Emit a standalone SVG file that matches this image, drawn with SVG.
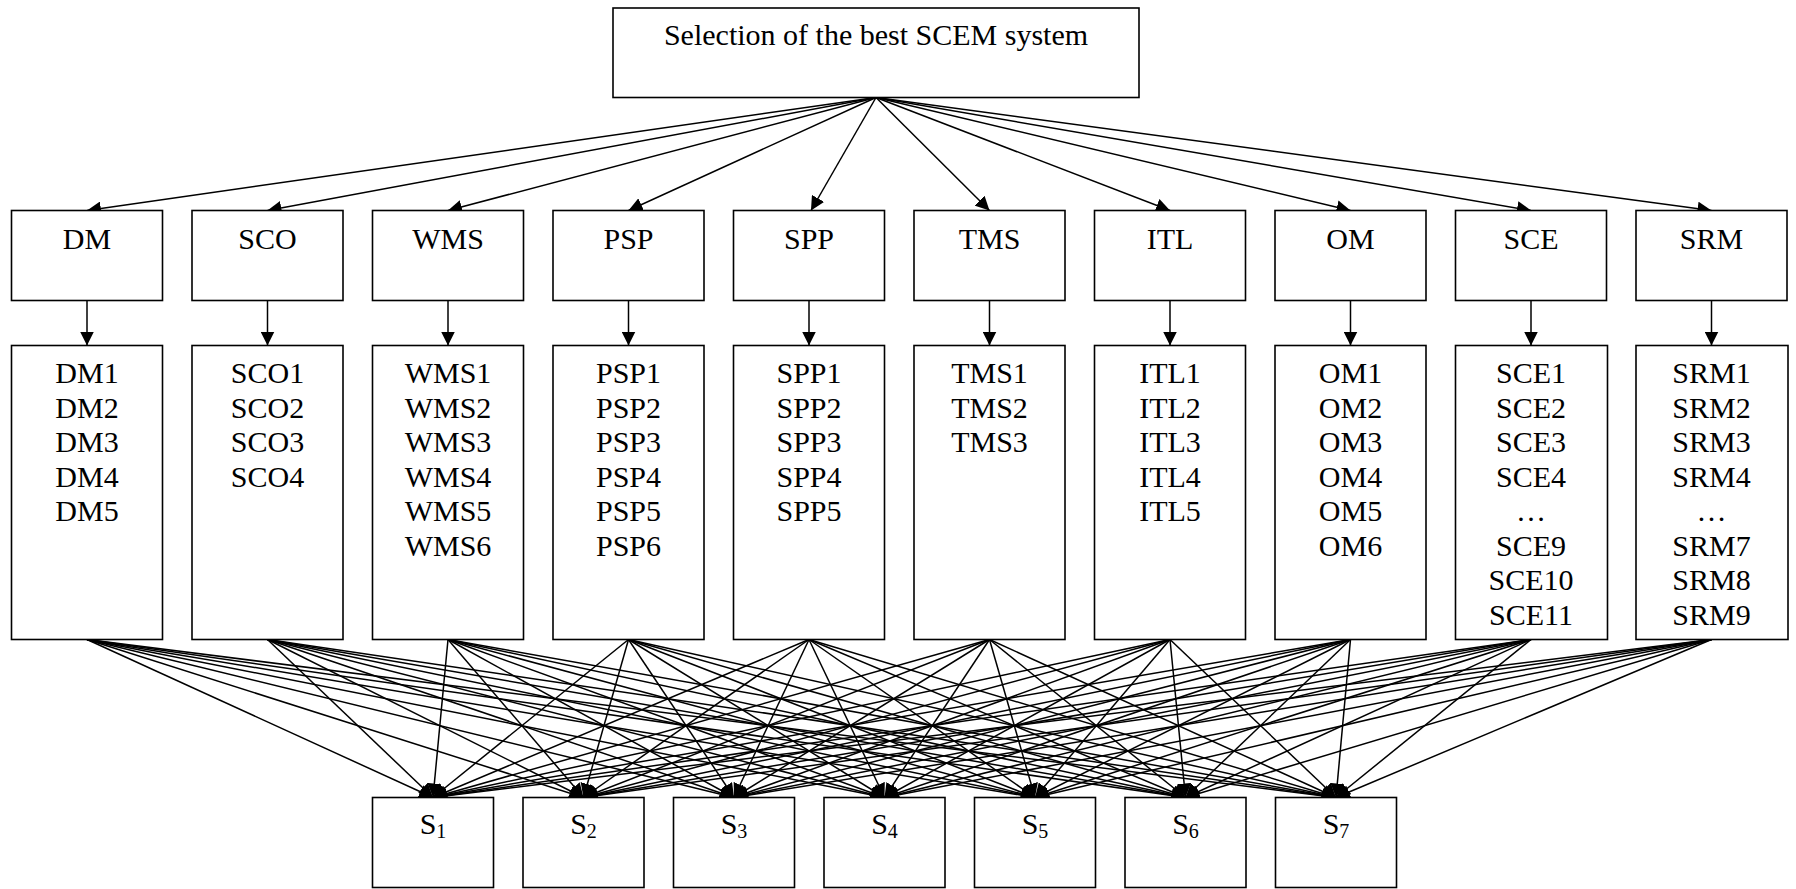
<svg xmlns="http://www.w3.org/2000/svg" width="1796" height="889" viewBox="0 0 1796 889">
  <defs>
    <marker id="ah" viewBox="0 0 14 14" refX="14" refY="7" markerWidth="14" markerHeight="14" markerUnits="userSpaceOnUse" orient="auto">
      <path d="M0,0 L14,7 L0,14 z" fill="#000"/>
    </marker>
    <style>
      rect { fill: #fff; stroke: #000; stroke-width: 1.6; }
      text { font-family: "Liberation Serif", "Times New Roman", serif; font-size: 30px; fill: #000; text-anchor: middle; }
      .sub { font-size: 20px; }
      #connectors line { stroke: #000; stroke-width: 1.5; marker-end: url(#ah); }
    </style>
  </defs>
  <rect x="0" y="0" width="1796" height="889" style="fill:#fff;stroke:none"/>

  <!-- connectors -->
  <g id="connectors">
    <!-- goal to criteria -->
    <line x1="876" y1="97.5" x2="87" y2="210.5"/>
    <line x1="876" y1="97.5" x2="267.5" y2="210.5"/>
    <line x1="876" y1="97.5" x2="448" y2="210.5"/>
    <line x1="876" y1="97.5" x2="628.5" y2="210.5"/>
    <line x1="876" y1="97.5" x2="811" y2="210.5"/>
    <line x1="876" y1="97.5" x2="989.5" y2="210.5"/>
    <line x1="876" y1="97.5" x2="1170" y2="210.5"/>
    <line x1="876" y1="97.5" x2="1350.5" y2="210.5"/>
    <line x1="876" y1="97.5" x2="1531" y2="210.5"/>
    <line x1="876" y1="97.5" x2="1711.5" y2="210.5"/>
    <!-- criteria to sub-criteria -->
    <line x1="87" y1="300.5" x2="87" y2="345.5"/>
    <line x1="267.5" y1="300.5" x2="267.5" y2="345.5"/>
    <line x1="448" y1="300.5" x2="448" y2="345.5"/>
    <line x1="628.5" y1="300.5" x2="628.5" y2="345.5"/>
    <line x1="809" y1="300.5" x2="809" y2="345.5"/>
    <line x1="989.5" y1="300.5" x2="989.5" y2="345.5"/>
    <line x1="1170" y1="300.5" x2="1170" y2="345.5"/>
    <line x1="1350.5" y1="300.5" x2="1350.5" y2="345.5"/>
    <line x1="1531" y1="300.5" x2="1531" y2="345.5"/>
    <line x1="1711.5" y1="300.5" x2="1711.5" y2="345.5"/>
    <!-- sub-criteria to alternatives -->
    <line x1="87" y1="639.5" x2="433" y2="797.5"/>
    <line x1="87" y1="639.5" x2="583.5" y2="797.5"/>
    <line x1="87" y1="639.5" x2="734" y2="797.5"/>
    <line x1="87" y1="639.5" x2="884.5" y2="797.5"/>
    <line x1="87" y1="639.5" x2="1035" y2="797.5"/>
    <line x1="87" y1="639.5" x2="1185.5" y2="797.5"/>
    <line x1="87" y1="639.5" x2="1336" y2="797.5"/>
    <line x1="267.5" y1="639.5" x2="433" y2="797.5"/>
    <line x1="267.5" y1="639.5" x2="583.5" y2="797.5"/>
    <line x1="267.5" y1="639.5" x2="734" y2="797.5"/>
    <line x1="267.5" y1="639.5" x2="884.5" y2="797.5"/>
    <line x1="267.5" y1="639.5" x2="1035" y2="797.5"/>
    <line x1="267.5" y1="639.5" x2="1185.5" y2="797.5"/>
    <line x1="267.5" y1="639.5" x2="1336" y2="797.5"/>
    <line x1="448" y1="639.5" x2="433" y2="797.5"/>
    <line x1="448" y1="639.5" x2="583.5" y2="797.5"/>
    <line x1="448" y1="639.5" x2="734" y2="797.5"/>
    <line x1="448" y1="639.5" x2="884.5" y2="797.5"/>
    <line x1="448" y1="639.5" x2="1035" y2="797.5"/>
    <line x1="448" y1="639.5" x2="1185.5" y2="797.5"/>
    <line x1="448" y1="639.5" x2="1336" y2="797.5"/>
    <line x1="628.5" y1="639.5" x2="433" y2="797.5"/>
    <line x1="628.5" y1="639.5" x2="583.5" y2="797.5"/>
    <line x1="628.5" y1="639.5" x2="734" y2="797.5"/>
    <line x1="628.5" y1="639.5" x2="884.5" y2="797.5"/>
    <line x1="628.5" y1="639.5" x2="1035" y2="797.5"/>
    <line x1="628.5" y1="639.5" x2="1185.5" y2="797.5"/>
    <line x1="628.5" y1="639.5" x2="1336" y2="797.5"/>
    <line x1="809" y1="639.5" x2="433" y2="797.5"/>
    <line x1="809" y1="639.5" x2="583.5" y2="797.5"/>
    <line x1="809" y1="639.5" x2="734" y2="797.5"/>
    <line x1="809" y1="639.5" x2="884.5" y2="797.5"/>
    <line x1="809" y1="639.5" x2="1035" y2="797.5"/>
    <line x1="809" y1="639.5" x2="1185.5" y2="797.5"/>
    <line x1="809" y1="639.5" x2="1336" y2="797.5"/>
    <line x1="989.5" y1="639.5" x2="433" y2="797.5"/>
    <line x1="989.5" y1="639.5" x2="583.5" y2="797.5"/>
    <line x1="989.5" y1="639.5" x2="734" y2="797.5"/>
    <line x1="989.5" y1="639.5" x2="884.5" y2="797.5"/>
    <line x1="989.5" y1="639.5" x2="1035" y2="797.5"/>
    <line x1="989.5" y1="639.5" x2="1185.5" y2="797.5"/>
    <line x1="989.5" y1="639.5" x2="1336" y2="797.5"/>
    <line x1="1170" y1="639.5" x2="433" y2="797.5"/>
    <line x1="1170" y1="639.5" x2="583.5" y2="797.5"/>
    <line x1="1170" y1="639.5" x2="734" y2="797.5"/>
    <line x1="1170" y1="639.5" x2="884.5" y2="797.5"/>
    <line x1="1170" y1="639.5" x2="1035" y2="797.5"/>
    <line x1="1170" y1="639.5" x2="1185.5" y2="797.5"/>
    <line x1="1170" y1="639.5" x2="1336" y2="797.5"/>
    <line x1="1350.5" y1="639.5" x2="433" y2="797.5"/>
    <line x1="1350.5" y1="639.5" x2="583.5" y2="797.5"/>
    <line x1="1350.5" y1="639.5" x2="734" y2="797.5"/>
    <line x1="1350.5" y1="639.5" x2="884.5" y2="797.5"/>
    <line x1="1350.5" y1="639.5" x2="1035" y2="797.5"/>
    <line x1="1350.5" y1="639.5" x2="1185.5" y2="797.5"/>
    <line x1="1350.5" y1="639.5" x2="1336" y2="797.5"/>
    <line x1="1531" y1="639.5" x2="433" y2="797.5"/>
    <line x1="1531" y1="639.5" x2="583.5" y2="797.5"/>
    <line x1="1531" y1="639.5" x2="734" y2="797.5"/>
    <line x1="1531" y1="639.5" x2="884.5" y2="797.5"/>
    <line x1="1531" y1="639.5" x2="1035" y2="797.5"/>
    <line x1="1531" y1="639.5" x2="1185.5" y2="797.5"/>
    <line x1="1531" y1="639.5" x2="1336" y2="797.5"/>
    <line x1="1711.5" y1="639.5" x2="433" y2="797.5"/>
    <line x1="1711.5" y1="639.5" x2="583.5" y2="797.5"/>
    <line x1="1711.5" y1="639.5" x2="734" y2="797.5"/>
    <line x1="1711.5" y1="639.5" x2="884.5" y2="797.5"/>
    <line x1="1711.5" y1="639.5" x2="1035" y2="797.5"/>
    <line x1="1711.5" y1="639.5" x2="1185.5" y2="797.5"/>
    <line x1="1711.5" y1="639.5" x2="1336" y2="797.5"/>
  </g>

  <!-- goal -->
  <g id="goal">
    <rect x="613" y="8" width="526" height="89.5"/>
    <text x="876" y="45">Selection of the best SCEM system</text>
  </g>

  <!-- criteria -->
  <g id="c-dm"><rect x="11.5" y="210.5" width="151" height="90"/><text x="87" y="249">DM</text></g>
  <g id="c-sco"><rect x="192" y="210.5" width="151" height="90"/><text x="267.5" y="249">SCO</text></g>
  <g id="c-wms"><rect x="372.5" y="210.5" width="151" height="90"/><text x="448" y="249">WMS</text></g>
  <g id="c-psp"><rect x="553" y="210.5" width="151" height="90"/><text x="628.5" y="249">PSP</text></g>
  <g id="c-spp"><rect x="733.5" y="210.5" width="151" height="90"/><text x="809" y="249">SPP</text></g>
  <g id="c-tms"><rect x="914" y="210.5" width="151" height="90"/><text x="989.5" y="249">TMS</text></g>
  <g id="c-itl"><rect x="1094.5" y="210.5" width="151" height="90"/><text x="1170" y="249">ITL</text></g>
  <g id="c-om"><rect x="1275" y="210.5" width="151" height="90"/><text x="1350.5" y="249">OM</text></g>
  <g id="c-sce"><rect x="1455.5" y="210.5" width="151" height="90"/><text x="1531" y="249">SCE</text></g>
  <g id="c-srm"><rect x="1636" y="210.5" width="151" height="90"/><text x="1711.5" y="249">SRM</text></g>

  <!-- sub-criteria -->
  <g id="s-dm">
    <rect x="11.5" y="345.5" width="151" height="294"/>
    <text x="87" y="383">DM1</text><text x="87" y="417.5">DM2</text><text x="87" y="452">DM3</text><text x="87" y="486.5">DM4</text><text x="87" y="521">DM5</text>
  </g>
  <g id="s-sco">
    <rect x="192" y="345.5" width="151" height="294"/>
    <text x="267.5" y="383">SCO1</text><text x="267.5" y="417.5">SCO2</text><text x="267.5" y="452">SCO3</text><text x="267.5" y="486.5">SCO4</text>
  </g>
  <g id="s-wms">
    <rect x="372.5" y="345.5" width="151" height="294"/>
    <text x="448" y="383">WMS1</text><text x="448" y="417.5">WMS2</text><text x="448" y="452">WMS3</text><text x="448" y="486.5">WMS4</text><text x="448" y="521">WMS5</text><text x="448" y="555.5">WMS6</text>
  </g>
  <g id="s-psp">
    <rect x="553" y="345.5" width="151" height="294"/>
    <text x="628.5" y="383">PSP1</text><text x="628.5" y="417.5">PSP2</text><text x="628.5" y="452">PSP3</text><text x="628.5" y="486.5">PSP4</text><text x="628.5" y="521">PSP5</text><text x="628.5" y="555.5">PSP6</text>
  </g>
  <g id="s-spp">
    <rect x="733.5" y="345.5" width="151" height="294"/>
    <text x="809" y="383">SPP1</text><text x="809" y="417.5">SPP2</text><text x="809" y="452">SPP3</text><text x="809" y="486.5">SPP4</text><text x="809" y="521">SPP5</text>
  </g>
  <g id="s-tms">
    <rect x="914" y="345.5" width="151" height="294"/>
    <text x="989.5" y="383">TMS1</text><text x="989.5" y="417.5">TMS2</text><text x="989.5" y="452">TMS3</text>
  </g>
  <g id="s-itl">
    <rect x="1094.5" y="345.5" width="151" height="294"/>
    <text x="1170" y="383">ITL1</text><text x="1170" y="417.5">ITL2</text><text x="1170" y="452">ITL3</text><text x="1170" y="486.5">ITL4</text><text x="1170" y="521">ITL5</text>
  </g>
  <g id="s-om">
    <rect x="1275" y="345.5" width="151" height="294"/>
    <text x="1350.5" y="383">OM1</text><text x="1350.5" y="417.5">OM2</text><text x="1350.5" y="452">OM3</text><text x="1350.5" y="486.5">OM4</text><text x="1350.5" y="521">OM5</text><text x="1350.5" y="555.5">OM6</text>
  </g>
  <g id="s-sce">
    <rect x="1455.5" y="345.5" width="152" height="294"/>
    <text x="1531" y="383">SCE1</text><text x="1531" y="417.5">SCE2</text><text x="1531" y="452">SCE3</text><text x="1531" y="486.5">SCE4</text><text x="1531" y="521">…</text><text x="1531" y="555.5">SCE9</text><text x="1531" y="590">SCE10</text><text x="1531" y="624.5">SCE11</text>
  </g>
  <g id="s-srm">
    <rect x="1636" y="345.5" width="152" height="294"/>
    <text x="1711.5" y="383">SRM1</text><text x="1711.5" y="417.5">SRM2</text><text x="1711.5" y="452">SRM3</text><text x="1711.5" y="486.5">SRM4</text><text x="1711.5" y="521">…</text><text x="1711.5" y="555.5">SRM7</text><text x="1711.5" y="590">SRM8</text><text x="1711.5" y="624.5">SRM9</text>
  </g>

  <!-- alternatives -->
  <g id="a-s1"><rect x="372.5" y="797.5" width="121" height="90"/><text x="433" y="834">S<tspan class="sub" dy="4">1</tspan></text></g>
  <g id="a-s2"><rect x="523" y="797.5" width="121" height="90"/><text x="583.5" y="834">S<tspan class="sub" dy="4">2</tspan></text></g>
  <g id="a-s3"><rect x="673.5" y="797.5" width="121" height="90"/><text x="734" y="834">S<tspan class="sub" dy="4">3</tspan></text></g>
  <g id="a-s4"><rect x="824" y="797.5" width="121" height="90"/><text x="884.5" y="834">S<tspan class="sub" dy="4">4</tspan></text></g>
  <g id="a-s5"><rect x="974.5" y="797.5" width="121" height="90"/><text x="1035" y="834">S<tspan class="sub" dy="4">5</tspan></text></g>
  <g id="a-s6"><rect x="1125" y="797.5" width="121" height="90"/><text x="1185.5" y="834">S<tspan class="sub" dy="4">6</tspan></text></g>
  <g id="a-s7"><rect x="1275.5" y="797.5" width="121" height="90"/><text x="1336" y="834">S<tspan class="sub" dy="4">7</tspan></text></g>
</svg>
